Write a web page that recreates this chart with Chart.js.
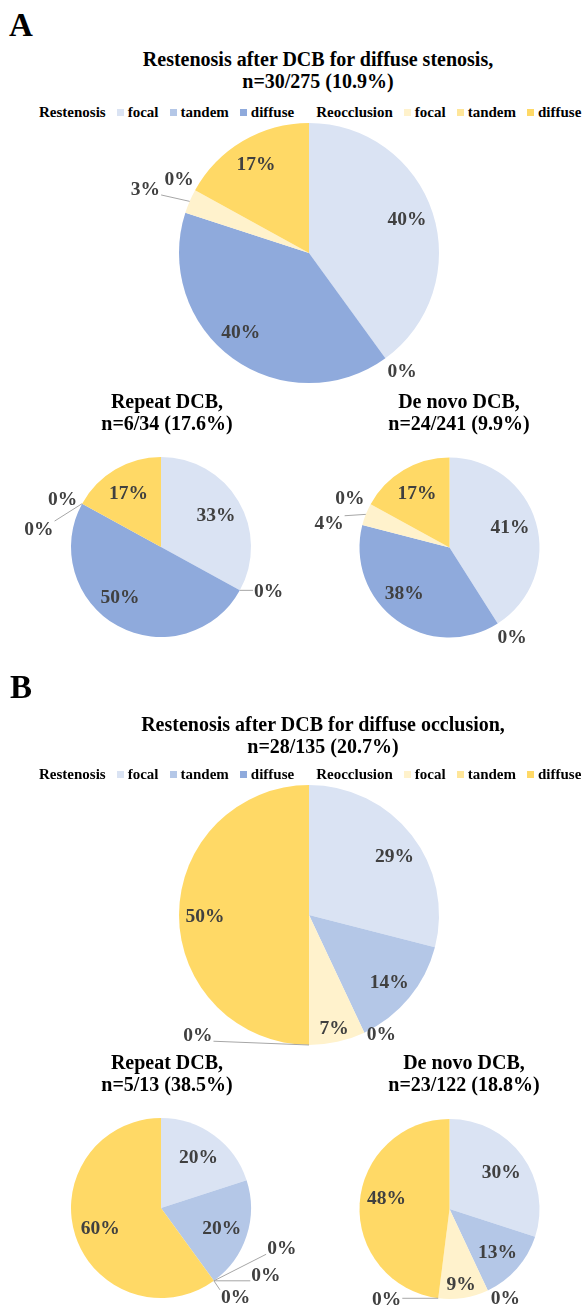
<!DOCTYPE html>
<html>
<head>
<meta charset="utf-8">
<title>Restenosis after DCB</title>
<script src="https://cdn.jsdelivr.net/npm/chart.js@4.4.1/dist/chart.umd.min.js"></script>
<style>
  html, body { margin: 0; padding: 0; background: #fff; }
  #page {
    position: relative; width: 583px; height: 1305px; overflow: hidden;
    font-family: "Liberation Serif", "Times New Roman", serif; font-weight: bold; color: #000;
  }
  #page canvas { position: absolute; left: 0; top: 0; }
  .panel { position: absolute; font-size: 33px; line-height: 37px; }
  .title {
    position: absolute; font-size: 20px; line-height: 22px; text-align: center;
    white-space: nowrap; transform: translateX(-50%);
  }
  .legend {
    position: absolute; left: 39px; font-size: 15px; line-height: 17px; white-space: nowrap;
  }
  .legend .sw { display: inline-block; width: 7px; height: 7px; margin: 0 4px 1px 11px; vertical-align: baseline; }
  .legend .grp2 { margin-left: 22px; }
</style>
</head>
<body>
<div id="page"></div>
<script>
// ---- data -------------------------------------------------------------
const categories = [
  'Restenosis focal', 'Restenosis tandem', 'Restenosis diffuse',
  'Reocclusion focal', 'Reocclusion tandem', 'Reocclusion diffuse'
];
const legendGroups = ['Restenosis', 'Reocclusion'];
const legendTypes = ['focal', 'tandem', 'diffuse'];

// percentage of restenosis pattern per cohort
const stenosisAll    = [40, 0, 40, 3, 0, 17];
const stenosisRepeat = [33, 0, 50, 0, 0, 17];
const stenosisDeNovo = [41, 0, 38, 4, 0, 17];
const occlusionAll    = [29, 14, 0, 7, 0, 50];
const occlusionRepeat = [20, 20, 0, 0, 0, 60];
const occlusionDeNovo = [30, 13, 0, 9, 0, 48];

const panelLetters = ['A', 'B'];
const titleStenosisAll    = ['Restenosis after DCB for diffuse stenosis,', 'n=30/275 (10.9%)'];
const titleStenosisRepeat = ['Repeat DCB,', 'n=6/34 (17.6%)'];
const titleStenosisDeNovo = ['De novo DCB,', 'n=24/241 (9.9%)'];
const titleOcclusionAll    = ['Restenosis after DCB for diffuse occlusion,', 'n=28/135 (20.7%)'];
const titleOcclusionRepeat = ['Repeat DCB,', 'n=5/13 (38.5%)'];
const titleOcclusionDeNovo = ['De novo DCB,', 'n=23/122 (18.8%)'];

// ---- styles ---------------------------------------------------------------
const sliceColors = ['#DAE3F3', '#B4C7E7', '#8FAADC', '#FFF2CC', '#FFE699', '#FFD966'];
const W = 583, H = 1305;
const page = document.getElementById('page');

// percentage labels, with outside placement and leader lines for thin slices
const sliceLabels = {
  id: 'sliceLabels',
  afterDraw(chart, args, opts) {
    const ctx = chart.ctx;
    const meta = chart.getDatasetMeta(0);
    const values = chart.data.datasets[0].data;
    ctx.save();
    ctx.font = 'bold ' + opts.size + 'px "Liberation Serif", "Times New Roman", serif';
    ctx.textAlign = 'center';
    ctx.textBaseline = 'alphabetic';
    meta.data.forEach((arc, i) => {
      const p = arc.getProps(['x', 'y', 'startAngle', 'endAngle', 'outerRadius'], true);
      const mid = (p.startAngle + p.endAngle) / 2;
      const v = values[i];
      const o = opts.place[i] || {};
      const a = mid + (o.da || 0) * Math.PI / 180;
      const d = (o.dr !== undefined)
        ? p.outerRadius + o.dr
        : p.outerRadius - (v < opts.narrowBelow ? opts.narrowInset : opts.inset);
      const lx = p.x + d * Math.cos(a);
      const ly = p.y + d * Math.sin(a);
      const text = v + '%';
      if (o.leader) {
        const w = ctx.measureText(text).width;
        const hh = opts.size * 0.36;
        const ax = p.x + p.outerRadius * Math.cos(mid);
        const ay = p.y + p.outerRadius * Math.sin(mid);
        const tx = Math.min(Math.max(ax, lx - w / 2 - 1), lx + w / 2 + 1);
        const ty = Math.min(Math.max(ay, ly - hh), ly + hh);
        ctx.strokeStyle = opts.leaderColor;
        ctx.lineWidth = 1;
        ctx.beginPath();
        ctx.moveTo(ax, ay);
        ctx.lineTo(tx, ty);
        ctx.stroke();
      }
      ctx.fillStyle = opts.color;
      ctx.fillText(text, lx, ly + opts.size * 0.34);
    });
    ctx.restore();
  }
};

function drawPie(values, cx, cy, r, place) {
  const canvas = document.createElement('canvas');
  canvas.width = W; canvas.height = H;
  page.appendChild(canvas);
  new Chart(canvas, {
    type: 'pie',
    data: {
      labels: categories,
      datasets: [{ data: values, backgroundColor: sliceColors, borderWidth: 0 }]
    },
    options: {
      responsive: false,
      animation: false,
      events: [],
      layout: { padding: { left: cx - r, right: W - cx - r, top: cy - r, bottom: H - cy - r } },
      plugins: {
        legend: { display: false },
        tooltip: { enabled: false },
        sliceLabels: {
          size: 19.5, color: '#404040', leaderColor: '#A6A6A6',
          inset: 26, narrowInset: 15, narrowBelow: 10, place: place
        }
      }
    },
    plugins: [sliceLabels]
  });
}

function addText(cls, html, left, top) {
  const el = document.createElement('div');
  el.className = cls;
  el.innerHTML = html;
  el.style.left = left + 'px';
  el.style.top = top + 'px';
  page.appendChild(el);
}

function addTitle(lines, centerX, top) {
  addText('title', lines.join('<br>'), centerX, top);
}

function addLegend(top) {
  let html = '';
  legendGroups.forEach((g, gi) => {
    html += '<span class="' + (gi ? 'grp2' : '') + '">' + g + '</span>';
    legendTypes.forEach((t, ti) => {
      html += '<span class="sw" style="background:' + sliceColors[gi * 3 + ti] + '"></span><span>' + t + '</span>';
    });
  });
  addText('legend', html, 39, top);
}

// ---- panel A: diffuse stenosis -------------------------------------------
addText('panel', panelLetters[0], 9, 7);
addTitle(titleStenosisAll, 318, 48);
addLegend(104);
drawPie(stenosisAll, 309, 253, 130, {
  0: { da: -1.7 }, 2: { da: 5 },
  1: { da: -2.5, dr: 19.5 },
  3: { da: -1.7, dr: 46, leader: true },
  4: { da: 1.2, dr: 20 }
});
addTitle(titleStenosisRepeat, 167, 390);
drawPie(stenosisRepeat, 161, 547, 90, {
  1: { da: -7, dr: 26, leader: true },
  2: { da: 11 },
  3: { da: -20, dr: 33.5, leader: true },
  4: { da: -2.3, dr: 20 }
});
addTitle(titleStenosisDeNovo, 459, 390);
drawPie(stenosisDeNovo, 449.5, 547.5, 90, {
  0: { da: -3 },
  1: { da: -2.6, dr: 19 },
  2: { da: 9 },
  3: { da: -10, dr: 33, leader: true },
  4: { da: -1.9, dr: 21.6 }
});

// ---- panel B: diffuse occlusion ------------------------------------------
addText('panel', panelLetters[1], 10, 669);
addTitle(titleOcclusionAll, 323, 713);
addLegend(766);
drawPie(occlusionAll, 309, 915, 130, {
  0: { da: 3 },
  2: { da: -6.2, dr: 9 },
  4: { da: 43, dr: 33, leader: true }
});
addTitle(titleOcclusionRepeat, 167, 1051);
drawPie(occlusionRepeat, 161, 1208, 90, {
  2: { da: -36, dr: 37, leader: true },
  3: { da: -21.8, dr: 34, leader: true },
  4: { da: -4, dr: 26, leader: true }
});
addTitle(titleOcclusionDeNovo, 464, 1051);
drawPie(occlusionDeNovo, 449.5, 1209, 90, {
  2: { da: -7, dr: 15 },
  4: { da: 28, dr: 19, leader: true },
  5: { da: 7 }
});
</script>
</body>
</html>
